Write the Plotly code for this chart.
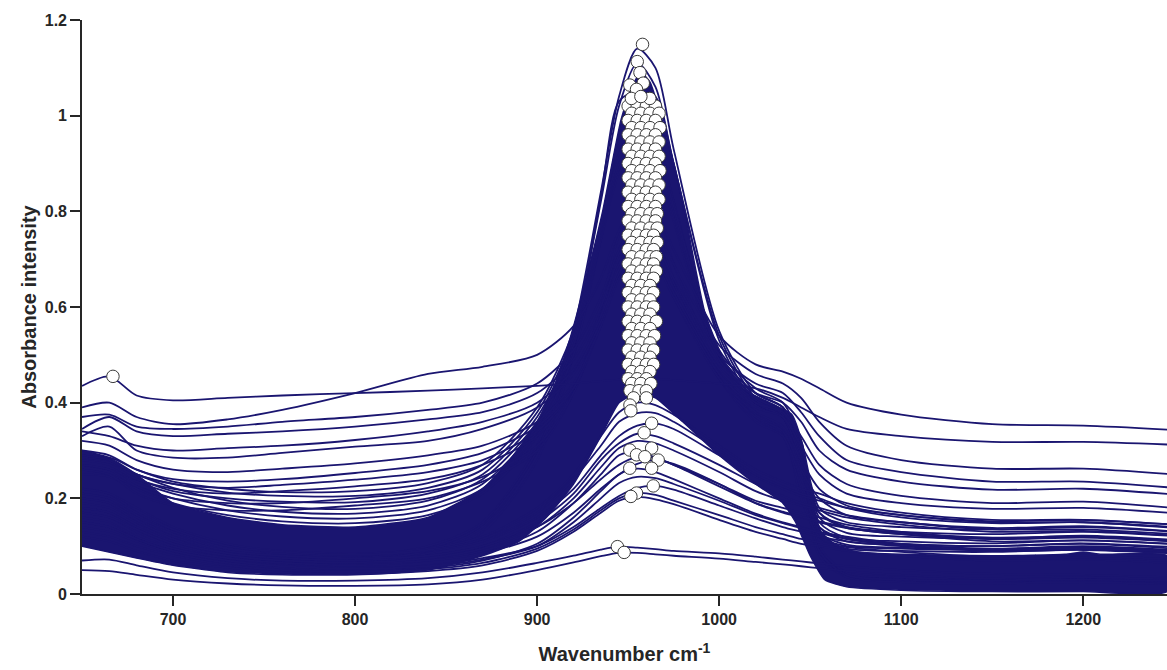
import plotly.graph_objects as go

# Wavenumber grid at which spectra values were read
wavenumber = [650, 665, 680, 700, 730, 760, 800, 840, 870, 900, 920, 935, 945,
              955, 965, 975, 1000, 1020, 1035, 1045, 1055, 1070, 1100, 1150, 1200, 1250]

# High-baseline spectra
B1 = [0.435, 0.455, 0.415, 0.405, 0.41, 0.415, 0.42, 0.425, 0.43, 0.435, 0.44, 0.445, 0.448, 0.45, 0.45, 0.447, 0.44, 0.43, 0.41, 0.39, 0.37, 0.345, 0.33, 0.318, 0.318, 0.312]
B2 = [0.39, 0.40, 0.37, 0.355, 0.365, 0.385, 0.42, 0.46, 0.475, 0.50, 0.56, 0.66, 0.76, 0.82, 0.80, 0.72, 0.54, 0.48, 0.465, 0.45, 0.43, 0.40, 0.375, 0.355, 0.352, 0.343]
B3 = [0.37, 0.375, 0.35, 0.345, 0.35, 0.36, 0.37, 0.385, 0.40, 0.44, 0.51, 0.62, 0.72, 0.78, 0.76, 0.69, 0.52, 0.46, 0.44, 0.41, 0.36, 0.31, 0.28, 0.262, 0.262, 0.25]
B4 = [0.345, 0.37, 0.34, 0.33, 0.335, 0.34, 0.35, 0.365, 0.38, 0.42, 0.49, 0.60, 0.70, 0.75, 0.73, 0.66, 0.50, 0.44, 0.42, 0.38, 0.33, 0.28, 0.255, 0.235, 0.235, 0.222]
B5 = [0.34, 0.33, 0.31, 0.30, 0.305, 0.31, 0.322, 0.34, 0.36, 0.40, 0.47, 0.58, 0.68, 0.73, 0.71, 0.64, 0.48, 0.42, 0.40, 0.36, 0.30, 0.26, 0.235, 0.218, 0.22, 0.208]
B6 = [0.33, 0.35, 0.30, 0.285, 0.285, 0.295, 0.308, 0.32, 0.345, 0.39, 0.46, 0.57, 0.67, 0.72, 0.70, 0.63, 0.47, 0.40, 0.38, 0.33, 0.27, 0.23, 0.205, 0.19, 0.193, 0.18]
B7 = [0.32, 0.31, 0.28, 0.26, 0.255, 0.262, 0.273, 0.29, 0.31, 0.36, 0.44, 0.56, 0.66, 0.71, 0.69, 0.62, 0.46, 0.39, 0.37, 0.31, 0.25, 0.21, 0.19, 0.178, 0.18, 0.169]
B8 = [0.30, 0.29, 0.26, 0.24, 0.235, 0.24, 0.253, 0.27, 0.295, 0.35, 0.43, 0.56, 0.67, 0.72, 0.70, 0.62, 0.45, 0.38, 0.35, 0.28, 0.22, 0.185, 0.165, 0.152, 0.155, 0.145]
B9 = [0.29, 0.28, 0.25, 0.23, 0.222, 0.228, 0.239, 0.255, 0.28, 0.34, 0.43, 0.57, 0.69, 0.74, 0.72, 0.64, 0.45, 0.37, 0.34, 0.26, 0.20, 0.165, 0.15, 0.138, 0.142, 0.131]
B10 = [0.28, 0.27, 0.24, 0.22, 0.21, 0.215, 0.225, 0.24, 0.27, 0.33, 0.43, 0.58, 0.71, 0.76, 0.74, 0.65, 0.45, 0.36, 0.33, 0.24, 0.17, 0.14, 0.125, 0.115, 0.12, 0.11]
B11 = [0.27, 0.26, 0.225, 0.20, 0.19, 0.19, 0.20, 0.215, 0.245, 0.31, 0.42, 0.58, 0.72, 0.78, 0.76, 0.66, 0.46, 0.37, 0.33, 0.22, 0.14, 0.115, 0.105, 0.10, 0.105, 0.095]
B12 = [0.26, 0.25, 0.21, 0.185, 0.175, 0.175, 0.185, 0.20, 0.235, 0.30, 0.42, 0.60, 0.75, 0.82, 0.80, 0.69, 0.47, 0.38, 0.34, 0.20, 0.12, 0.10, 0.095, 0.092, 0.097, 0.088]

# Typical spectra lying at the upper edge of the dense bundle
D1 = [0.25, 0.245, 0.22, 0.19, 0.165, 0.152, 0.148, 0.165, 0.21, 0.33, 0.50, 0.75, 0.92, 0.98, 0.95, 0.82, 0.50, 0.40, 0.37, 0.27, 0.12, 0.095, 0.09, 0.088, 0.093, 0.086]
D2 = [0.26, 0.25, 0.225, 0.20, 0.175, 0.162, 0.158, 0.175, 0.22, 0.34, 0.50, 0.74, 0.90, 0.96, 0.93, 0.80, 0.49, 0.40, 0.37, 0.28, 0.13, 0.103, 0.097, 0.094, 0.10, 0.092]
D3 = [0.27, 0.26, 0.235, 0.21, 0.185, 0.172, 0.168, 0.185, 0.23, 0.35, 0.52, 0.76, 0.92, 0.97, 0.94, 0.81, 0.50, 0.41, 0.38, 0.29, 0.14, 0.11, 0.104, 0.10, 0.106, 0.098]
D4 = [0.28, 0.275, 0.25, 0.222, 0.195, 0.182, 0.178, 0.195, 0.24, 0.36, 0.52, 0.74, 0.88, 0.93, 0.90, 0.78, 0.49, 0.41, 0.38, 0.30, 0.15, 0.118, 0.11, 0.106, 0.112, 0.104]
D5 = [0.27, 0.26, 0.24, 0.215, 0.20, 0.193, 0.192, 0.21, 0.25, 0.37, 0.53, 0.75, 0.89, 0.94, 0.91, 0.79, 0.50, 0.42, 0.39, 0.31, 0.16, 0.128, 0.12, 0.116, 0.122, 0.113]
D6 = [0.29, 0.28, 0.25, 0.23, 0.212, 0.205, 0.205, 0.222, 0.26, 0.38, 0.54, 0.76, 0.90, 0.95, 0.92, 0.80, 0.50, 0.42, 0.39, 0.31, 0.17, 0.138, 0.13, 0.125, 0.13, 0.121]
D7 = [0.28, 0.285, 0.26, 0.235, 0.22, 0.213, 0.215, 0.232, 0.27, 0.39, 0.55, 0.77, 0.91, 0.96, 0.93, 0.81, 0.51, 0.43, 0.40, 0.32, 0.18, 0.15, 0.14, 0.135, 0.14, 0.13]

# Strongest spectra (peak tip)
A1 = [0.20, 0.19, 0.15, 0.11, 0.08, 0.07, 0.07, 0.09, 0.14, 0.30, 0.55, 0.84, 1.04, 1.14, 1.10, 0.93, 0.55, 0.42, 0.39, 0.30, 0.10, 0.045, 0.035, 0.03, 0.035, 0.03]
A2 = [0.22, 0.21, 0.17, 0.13, 0.09, 0.08, 0.08, 0.10, 0.15, 0.31, 0.54, 0.82, 1.02, 1.11, 1.06, 0.90, 0.54, 0.41, 0.38, 0.29, 0.09, 0.04, 0.03, 0.028, 0.03, 0.025]
A3 = [0.18, 0.17, 0.14, 0.10, 0.075, 0.065, 0.065, 0.085, 0.13, 0.28, 0.50, 0.76, 0.96, 1.06, 1.04, 0.90, 0.53, 0.40, 0.37, 0.28, 0.08, 0.035, 0.025, 0.022, 0.025, 0.02]
A4 = [0.21, 0.20, 0.16, 0.12, 0.085, 0.075, 0.075, 0.095, 0.145, 0.30, 0.53, 0.83, 1.03, 1.05, 0.98, 0.82, 0.50, 0.40, 0.37, 0.28, 0.09, 0.04, 0.03, 0.028, 0.03, 0.028]

# Weak spectra
C1 = [0.20, 0.19, 0.16, 0.13, 0.10, 0.085, 0.08, 0.09, 0.11, 0.16, 0.22, 0.29, 0.33, 0.352, 0.356, 0.345, 0.29, 0.245, 0.22, 0.205, 0.195, 0.18, 0.165, 0.15, 0.15, 0.14]
C2 = [0.18, 0.17, 0.14, 0.11, 0.085, 0.075, 0.07, 0.08, 0.10, 0.15, 0.21, 0.28, 0.315, 0.335, 0.33, 0.315, 0.27, 0.23, 0.205, 0.19, 0.18, 0.165, 0.15, 0.135, 0.135, 0.125]
C3 = [0.16, 0.15, 0.12, 0.095, 0.075, 0.065, 0.06, 0.07, 0.09, 0.13, 0.19, 0.25, 0.29, 0.298, 0.285, 0.27, 0.23, 0.195, 0.18, 0.17, 0.16, 0.145, 0.13, 0.115, 0.118, 0.11]
C4 = [0.17, 0.16, 0.13, 0.10, 0.08, 0.07, 0.065, 0.07, 0.085, 0.12, 0.17, 0.22, 0.25, 0.272, 0.28, 0.272, 0.23, 0.19, 0.17, 0.16, 0.15, 0.138, 0.125, 0.11, 0.112, 0.105]
C5 = [0.14, 0.13, 0.11, 0.085, 0.065, 0.055, 0.05, 0.055, 0.07, 0.105, 0.16, 0.215, 0.25, 0.262, 0.255, 0.24, 0.20, 0.168, 0.15, 0.14, 0.13, 0.12, 0.105, 0.095, 0.098, 0.09]
C6 = [0.15, 0.14, 0.115, 0.09, 0.07, 0.06, 0.055, 0.06, 0.075, 0.10, 0.14, 0.18, 0.205, 0.222, 0.226, 0.218, 0.185, 0.158, 0.14, 0.13, 0.12, 0.11, 0.10, 0.09, 0.092, 0.085]
C7 = [0.12, 0.11, 0.09, 0.07, 0.055, 0.045, 0.042, 0.048, 0.06, 0.09, 0.13, 0.17, 0.195, 0.203, 0.198, 0.188, 0.155, 0.13, 0.115, 0.105, 0.10, 0.09, 0.08, 0.07, 0.072, 0.065]
C8 = [0.07, 0.072, 0.06, 0.045, 0.033, 0.028, 0.028, 0.033, 0.045, 0.065, 0.08, 0.093, 0.099, 0.097, 0.094, 0.09, 0.085, 0.078, 0.072, 0.068, 0.064, 0.058, 0.05, 0.042, 0.04, 0.035]
C9 = [0.05, 0.048, 0.04, 0.03, 0.022, 0.018, 0.017, 0.02, 0.03, 0.05, 0.066, 0.079, 0.086, 0.086, 0.083, 0.08, 0.074, 0.067, 0.062, 0.058, 0.054, 0.048, 0.04, 0.032, 0.03, 0.027]
C10 = [0.19, 0.18, 0.15, 0.12, 0.09, 0.08, 0.075, 0.08, 0.10, 0.14, 0.19, 0.24, 0.27, 0.286, 0.284, 0.27, 0.225, 0.19, 0.172, 0.162, 0.152, 0.14, 0.128, 0.118, 0.12, 0.112]
C11 = [0.13, 0.12, 0.10, 0.08, 0.06, 0.05, 0.047, 0.052, 0.065, 0.095, 0.135, 0.175, 0.20, 0.211, 0.207, 0.195, 0.165, 0.14, 0.125, 0.115, 0.108, 0.098, 0.088, 0.078, 0.08, 0.072]
C12 = [0.22, 0.21, 0.18, 0.14, 0.105, 0.09, 0.085, 0.095, 0.12, 0.18, 0.25, 0.33, 0.38, 0.40, 0.395, 0.375, 0.31, 0.26, 0.235, 0.22, 0.21, 0.19, 0.17, 0.155, 0.155, 0.145]
C13 = [0.21, 0.20, 0.17, 0.135, 0.10, 0.088, 0.082, 0.092, 0.115, 0.17, 0.24, 0.31, 0.36, 0.378, 0.378, 0.36, 0.30, 0.25, 0.225, 0.21, 0.20, 0.18, 0.16, 0.148, 0.15, 0.138]
C14 = [0.17, 0.16, 0.135, 0.105, 0.08, 0.07, 0.066, 0.075, 0.095, 0.14, 0.20, 0.265, 0.305, 0.32, 0.315, 0.30, 0.255, 0.215, 0.195, 0.185, 0.175, 0.16, 0.145, 0.13, 0.132, 0.122]
C15 = [0.15, 0.14, 0.115, 0.09, 0.07, 0.058, 0.053, 0.058, 0.072, 0.10, 0.15, 0.20, 0.232, 0.245, 0.242, 0.23, 0.195, 0.165, 0.148, 0.138, 0.128, 0.115, 0.102, 0.092, 0.095, 0.088]

# Envelope of the densely overlapping bulk of spectra
band_upper_x = [650, 665, 680, 700, 730, 760, 800, 840, 870, 885, 900, 910, 917, 925, 936, 946, 952, 957, 962, 968,
                975, 981, 987, 992, 1000, 1006, 1012, 1025, 1040, 1046, 1050, 1056, 1065, 1076, 1100, 1150, 1190,
                1200, 1210, 1246]
band_upper_y = [0.30, 0.285, 0.25, 0.19, 0.16, 0.145, 0.14, 0.16, 0.22, 0.28, 0.36, 0.44, 0.52, 0.63, 0.80, 0.99, 1.06, 1.09, 1.07, 1.00,
                0.90, 0.80, 0.68, 0.59, 0.51, 0.46, 0.43, 0.405, 0.375, 0.31, 0.21, 0.13, 0.10, 0.088, 0.083, 0.08, 0.083,
                0.088, 0.083, 0.08]
band_lower_x = [650, 680, 700, 730, 760, 800, 840, 870, 890, 905, 920, 935, 945, 955, 965, 980, 1000, 1020, 1035,
                1042, 1050, 1058, 1070, 1100, 1150, 1200, 1246]
band_lower_y = [0.10, 0.075, 0.06, 0.045, 0.04, 0.04, 0.05, 0.08, 0.11, 0.16, 0.23, 0.33, 0.40, 0.42, 0.41, 0.36, 0.29, 0.23, 0.19,
                0.15, 0.08, 0.03, 0.015, 0.008, 0.005, 0.005, 0.005]

# Peak maxima: rows of the dense marker column (absorbance, wavenumbers)
peak_row_absorbance = [1.02, 1.005, 0.99, 0.975, 0.96, 0.945, 0.93, 0.915, 0.90, 0.885, 0.87, 0.855, 0.84, 0.825,
                       0.81, 0.795, 0.78, 0.765, 0.75, 0.735, 0.72, 0.705, 0.69, 0.675, 0.66, 0.645, 0.63, 0.615,
                       0.60, 0.585, 0.57, 0.555, 0.54, 0.525, 0.51, 0.495, 0.48, 0.465, 0.45, 0.44, 0.425, 0.41,
                       0.395, 0.383]
peak_row_wavenumbers = [
    [950, 955, 960, 965], [952, 957, 962, 967], [950, 955, 960, 965], [952, 957, 962, 967.5],
    [950, 955, 960, 965], [952, 957, 962, 967], [950, 955, 960, 965], [952, 957, 962, 967],
    [950, 955, 960, 965], [952, 957, 962, 967.5], [950, 955, 960, 965], [952, 957, 962, 967],
    [950, 955, 960, 965], [952, 957, 962, 967], [950, 955, 960, 965], [952, 957, 962, 966],
    [950, 955, 960, 965], [952, 957, 962, 966], [950, 955, 960, 964], [952, 957, 962, 966],
    [950, 955, 960, 964], [952, 957, 962, 965.5], [950, 955, 960, 964], [952, 957, 962, 965.5],
    [950, 955, 960, 964], [952, 957, 962], [950, 955, 960, 964], [952, 957, 962],
    [950, 955, 960, 964], [952, 957, 962], [950, 955, 960, 965.5], [952, 957, 962],
    [950, 955, 960, 964.5], [952, 957, 962], [950, 955, 960, 964], [952, 957, 962],
    [950, 955, 960, 964], [952, 957, 962], [950, 955, 960], [952, 957, 962.5],
    [951, 956, 960], [953, 960], [951], [951.5],
]
# Isolated peak maxima (tip of the peak, weak spectra, low-frequency maximum)
peak_extra_wavenumber = [957.9, 955.0, 956.5, 950.9, 958.3, 954.6, 951.8, 961.9, 957.0,
                         962.9, 958.8, 950.9, 962.9, 954.6, 959.2, 966.5, 950.9, 962.9, 963.8, 954.6, 951.5,
                         944.1, 947.8, 667.0]
peak_extra_absorbance = [1.149, 1.113, 1.090, 1.064, 1.068, 1.055, 1.036, 1.036, 1.040,
                         0.357, 0.337, 0.301, 0.305, 0.291, 0.287, 0.280, 0.263, 0.263, 0.226, 0.211, 0.204,
                         0.099, 0.087, 0.455]

peak_x, peak_y = [], []
for yv, xs in zip(peak_row_absorbance, peak_row_wavenumbers):
    for xv in xs:
        peak_x.append(xv)
        peak_y.append(yv)
peak_x += peak_extra_wavenumber
peak_y += peak_extra_absorbance

LINE_COLOR = "#1a1570"
spectra = [A1, A2, A3, A4, D1, D2, D3, D4, D5, D6, D7,
           B12, B11, B10, B9, B8, B7, B6, B5, B4, B3, B2, B1,
           C1, C2, C3, C4, C5, C6, C7, C8, C9, C10, C11, C12, C13, C14, C15]

fig = go.Figure()

fig.add_trace(go.Scatter(
    x=band_upper_x + band_lower_x[::-1],
    y=band_upper_y + band_lower_y[::-1],
    fill="toself", fillcolor=LINE_COLOR, mode="lines",
    line=dict(color=LINE_COLOR, width=1.5, shape="spline", smoothing=0.5),
    hoverinfo="skip", showlegend=False,
))

for s in spectra:
    fig.add_trace(go.Scatter(
        x=wavenumber, y=s, mode="lines",
        line=dict(color=LINE_COLOR, width=1.8, shape="spline", smoothing=0.8),
        hoverinfo="skip", showlegend=False,
    ))

fig.add_trace(go.Scatter(
    x=peak_x, y=peak_y, mode="markers",
    marker=dict(size=12.5, color="white", line=dict(color="#3a3a3a", width=1)),
    showlegend=False,
))

AX = "#262626"
font_family = "Liberation Sans, Arial, Helvetica, sans-serif"
fig.update_layout(
    width=1167, height=670,
    margin=dict(l=82, r=0, t=20, b=76, autoexpand=False),
    paper_bgcolor="white", plot_bgcolor="white",
    font=dict(family=font_family, color=AX),
    xaxis=dict(
        range=[650, 1246], showgrid=False, zeroline=False, automargin=False,
        showline=True, linecolor=AX, linewidth=1.6,
        ticks="outside", ticklen=10, tickwidth=1.6, tickcolor=AX,
        tickvals=[700, 800, 900, 1000, 1100, 1200],
        ticktext=["<b>700</b>", "<b>800</b>", "<b>900</b>", "<b>1000</b>", "<b>1100</b>", "<b>1200</b>"],
        tickfont=dict(size=16, family=font_family, color=AX),
        title=dict(text="<b>Wavenumber cm<sup>-1</sup></b>", standoff=20,
                   font=dict(size=20, family=font_family, color=AX)),
    ),
    yaxis=dict(
        range=[0, 1.2], showgrid=False, zeroline=False, automargin=False,
        showline=True, linecolor=AX, linewidth=1.6,
        ticks="outside", ticklen=10, tickwidth=1.6, tickcolor=AX,
        tickvals=[0, 0.2, 0.4, 0.6, 0.8, 1.0, 1.2],
        ticktext=["<b>0</b>", "<b>0.2</b>", "<b>0.4</b>", "<b>0.6</b>", "<b>0.8</b>", "<b>1</b>", "<b>1.2</b>"],
        tickfont=dict(size=16, family=font_family, color=AX),
        title=dict(text="<b>Absorbance intensity</b>", standoff=3,
                   font=dict(size=20, family=font_family, color=AX)),
    ),
)

fig.write_html("out.html", config={"displayModeBar": False})

# Remove the default page margin so the figure sits at the window origin
with open("out.html", "r", encoding="utf-8") as f:
    html = f.read()
html = html.replace("<head>", "<head><style>html,body{margin:0;padding:0;overflow:hidden;}</style>", 1)
with open("out.html", "w", encoding="utf-8") as f:
    f.write(html)
